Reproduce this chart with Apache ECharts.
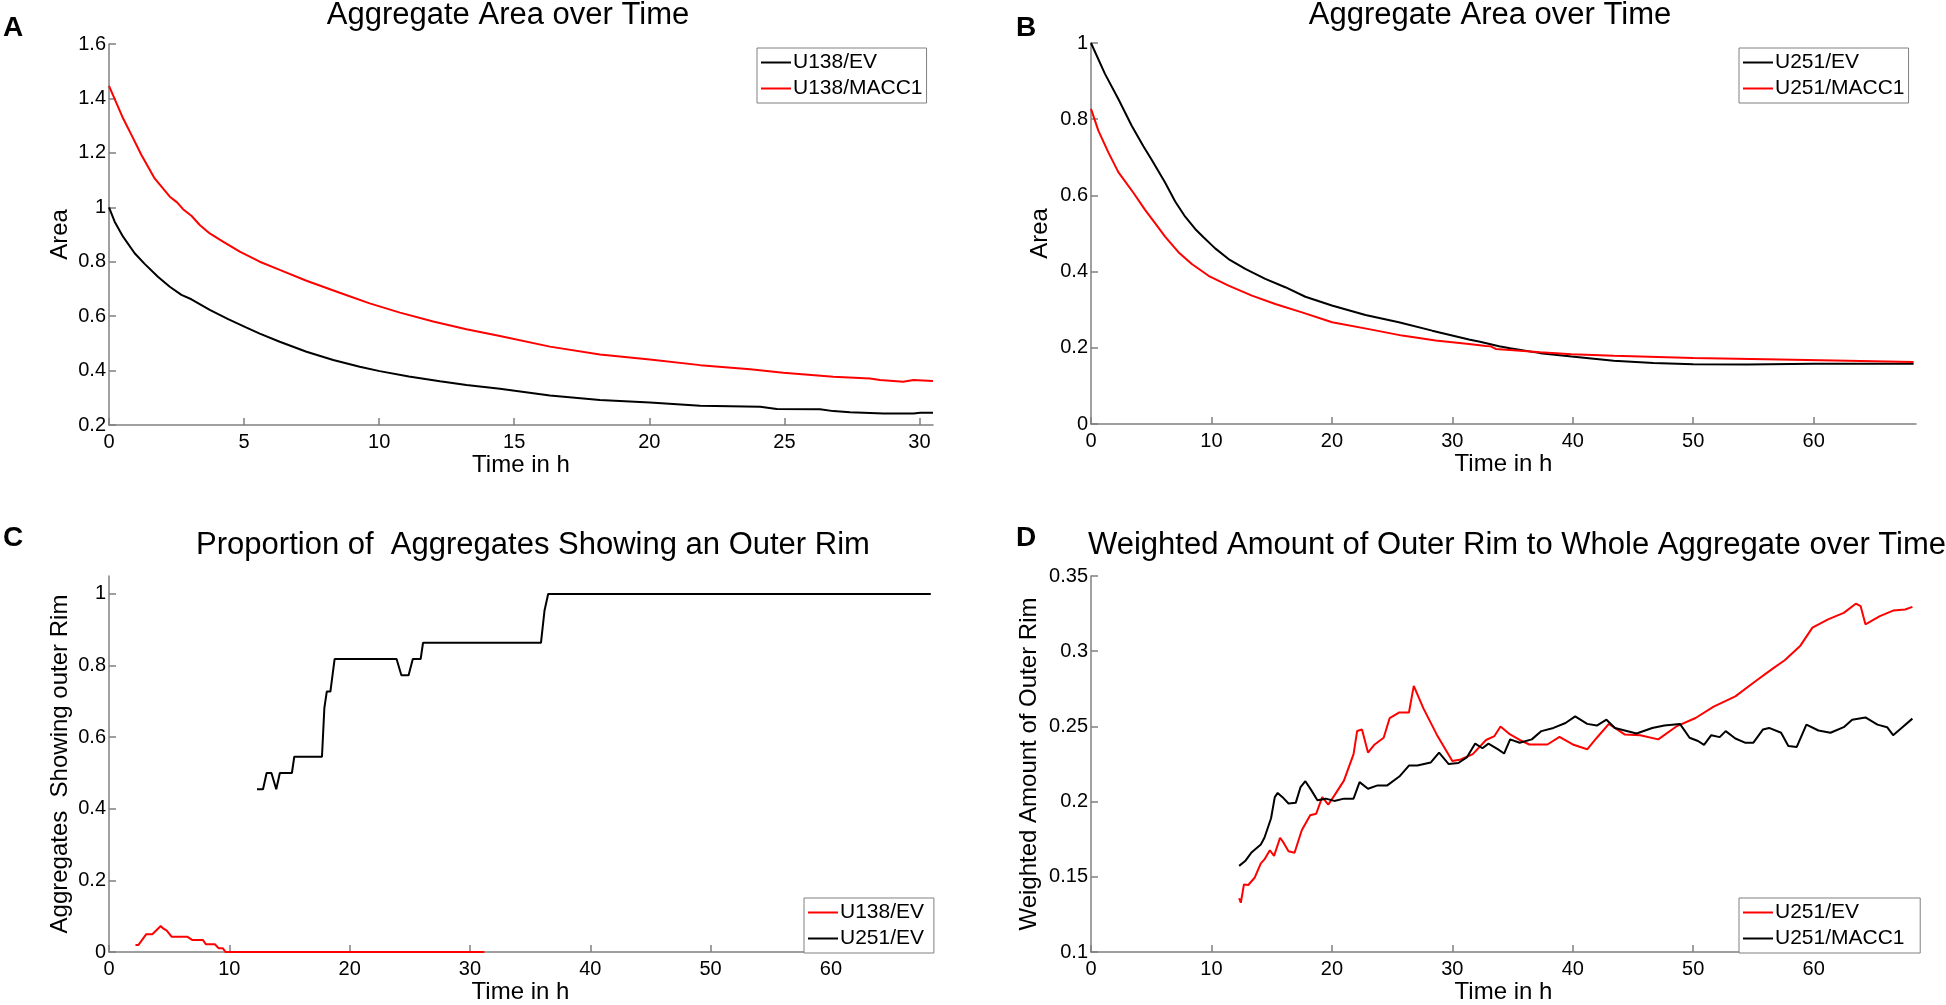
<!DOCTYPE html>
<html>
<head>
<meta charset="utf-8">
<script src="https://cdn.jsdelivr.net/npm/echarts@6/dist/echarts.min.js"></script>
<style>
html,body{margin:0;padding:0;background:#fff;}
#c{width:1946px;height:1005px;}
</style>
</head>
<body>
<div id="c"></div>
<script>
// ---------- DATA ----------
// Panel A: Aggregate Area over Time (U138)
const aU138EV = [[0,1.0],[0.21,0.947],[0.52,0.892],[0.95,0.831],[1.32,0.792],[1.81,0.745],[2.25,0.708],[2.68,0.678],[3.05,0.662],[3.73,0.623],[4.41,0.589],[5.09,0.558],[5.58,0.536],[6.32,0.506],[7.31,0.469],[8.3,0.439],[9.28,0.414],[10.02,0.398],[11.1,0.378],[12.25,0.361],[13.23,0.347],[14.47,0.333],[16.32,0.308],[18.17,0.292],[20.02,0.283],[21.88,0.271],[24.1,0.267],[24.72,0.259],[26.32,0.258],[26.81,0.251],[27.43,0.247],[28.67,0.242],[29.78,0.242],[30.03,0.245],[30.5,0.245]];
const aU138MACC1 = [[0,1.446],[0.52,1.327],[0.83,1.266],[1.2,1.192],[1.69,1.106],[2.25,1.039],[2.52,1.018],[2.74,0.993],[3.05,0.969],[3.36,0.935],[3.73,0.904],[4.22,0.874],[4.84,0.837],[5.58,0.8],[6.32,0.77],[7.31,0.73],[8.54,0.686],[9.65,0.647],[10.77,0.613],[12.0,0.58],[13.23,0.552],[14.47,0.527],[16.32,0.488],[18.17,0.459],[20.02,0.441],[21.88,0.42],[23.73,0.405],[24.96,0.392],[26.81,0.377],[28.17,0.371],[28.54,0.365],[29.4,0.359],[29.78,0.365],[30.5,0.362]];
// Panel B: Aggregate Area over Time (U251)
const bU251EV = [[0,1.0],[1.16,0.919],[2.27,0.853],[3.38,0.783],[4.35,0.729],[5.05,0.693],[6.15,0.634],[6.99,0.584],[7.82,0.544],[8.65,0.512],[9.34,0.49],[10.31,0.461],[11.42,0.433],[12.81,0.407],[14.47,0.381],[16.13,0.359],[17.8,0.334],[20.0,0.311],[22.79,0.286],[25.56,0.267],[28.33,0.245],[31.38,0.222],[32.3,0.216],[33.88,0.204],[34.8,0.199],[37.3,0.186],[39.9,0.177],[43.4,0.166],[46.7,0.16],[50.0,0.157],[54.5,0.156],[60.0,0.158],[68.3,0.158]];
const bU251MACC1 = [[0,0.827],[0.61,0.77],[1.44,0.713],[2.27,0.661],[3.52,0.607],[4.49,0.562],[5.32,0.527],[6.15,0.492],[7.26,0.451],[8.37,0.42],[9.76,0.389],[11.42,0.363],[13.36,0.337],[15.3,0.315],[17.52,0.293],[20.02,0.267],[23.07,0.249],[25.84,0.232],[28.61,0.219],[31.38,0.21],[32.8,0.205],[33.19,0.204],[33.6,0.197],[34.8,0.194],[37.3,0.188],[39.9,0.183],[43.4,0.179],[50.0,0.173],[57.2,0.169],[62.8,0.166],[68.3,0.163]];
// Panel C: Proportion of Aggregates Showing an Outer Rim
const cU138EV = [[2.2,0.02],[2.45,0.02],[3.1,0.05],[3.6,0.05],[4.3,0.073],[4.5,0.066],[4.8,0.06],[5.2,0.043],[6.5,0.043],[6.9,0.034],[7.8,0.034],[8.05,0.022],[8.8,0.022],[9.1,0.011],[9.45,0.011],[9.7,0],[31.2,0]];
const cU251EV = [[12.3,0.4545],[12.8,0.4545],[13.1,0.5],[13.5,0.5],[13.9,0.4545],[14.2,0.5],[15.2,0.5],[15.4,0.5455],[17.7,0.5455],[17.9,0.682],[18.1,0.7273],[18.4,0.7273],[18.75,0.8182],[23.9,0.8182],[24.3,0.7727],[24.9,0.7727],[25.25,0.8182],[25.9,0.8182],[26.1,0.8636],[35.9,0.8636],[36.2,0.9545],[36.5,1],[68.3,1]];
// Panel D: Weighted Amount of Outer Rim to Whole Aggregate over Time
const dU251EV = [[12.3,0.1358],[12.44,0.1328],[12.7,0.145],[13.06,0.1446],[13.6,0.1496],[14.1,0.159],[14.4,0.1616],[14.85,0.1677],[15.2,0.164],[15.7,0.176],[16.0,0.1726],[16.4,0.167],[16.9,0.166],[17.5,0.181],[18.2,0.191],[18.7,0.192],[19.2,0.203],[19.7,0.198],[20.2,0.204],[21.0,0.214],[21.8,0.2316],[22.1,0.247],[22.5,0.248],[23.0,0.2326],[23.55,0.238],[24.3,0.2425],[24.8,0.2556],[25.6,0.2593],[26.4,0.2593],[26.8,0.277],[27.6,0.262],[28.7,0.2447],[30.0,0.227],[30.7,0.228],[31.7,0.2316],[32.8,0.241],[33.5,0.2436],[34.0,0.25],[34.8,0.2447],[35.6,0.241],[36.4,0.238],[37.9,0.238],[38.9,0.243],[40.0,0.238],[41.2,0.2348],[42.0,0.2425],[43.0,0.2517],[44.3,0.2447],[45.6,0.2442],[47.1,0.2414],[48.6,0.25],[50.2,0.2556],[51.7,0.2632],[53.5,0.27],[55.0,0.279],[56.6,0.2884],[57.6,0.294],[58.9,0.3037],[59.9,0.3157],[61.2,0.3212],[62.5,0.3255],[63.5,0.3316],[63.9,0.330],[64.3,0.3179],[65.5,0.3233],[66.6,0.327],[67.6,0.3277],[68.2,0.3295]];
const dU251MACC1 = [[12.3,0.1573],[12.8,0.1605],[13.3,0.166],[14.1,0.1715],[14.4,0.176],[14.95,0.189],[15.26,0.203],[15.5,0.2058],[15.9,0.203],[16.4,0.1988],[17.0,0.1992],[17.4,0.2097],[17.8,0.2136],[18.3,0.2075],[18.8,0.201],[19.5,0.202],[20.2,0.2005],[21.0,0.202],[21.8,0.202],[22.3,0.213],[23.0,0.2086],[23.8,0.2108],[24.6,0.2108],[25.6,0.2167],[26.4,0.224],[27.1,0.224],[28.2,0.226],[28.9,0.2326],[29.7,0.225],[30.5,0.2257],[31.2,0.2294],[31.9,0.2386],[32.5,0.2355],[33.0,0.2386],[33.8,0.2348],[34.3,0.232],[34.8,0.2414],[35.6,0.2392],[36.6,0.2414],[37.4,0.2469],[38.4,0.249],[39.4,0.2523],[40.2,0.2567],[41.2,0.2517],[42.0,0.2506],[42.8,0.2545],[43.5,0.249],[45.3,0.2453],[46.6,0.249],[47.6,0.2506],[48.9,0.2517],[49.7,0.2425],[50.4,0.2403],[50.9,0.2377],[51.5,0.2442],[52.2,0.2429],[52.7,0.2469],[53.5,0.242],[54.3,0.2392],[55.0,0.2392],[55.8,0.248],[56.3,0.249],[57.3,0.2458],[57.9,0.237],[58.6,0.2364],[59.4,0.2512],[60.4,0.2473],[61.4,0.2458],[62.5,0.2495],[63.2,0.2545],[64.3,0.256],[65.3,0.2512],[66.1,0.2495],[66.6,0.2442],[67.3,0.249],[68.2,0.2552]];

// Tick values
const xTicksA = [0,5,10,15,20,25,30];
const xTicksBCD = [0,10,20,30,40,50,60];
const yTicksA = [0.2,0.4,0.6,0.8,1,1.2,1.4,1.6];
const yTicksB = [0,0.2,0.4,0.6,0.8,1];
const yTicksC = [0,0.2,0.4,0.6,0.8,1];
const yTicksD = [0.1,0.15,0.2,0.25,0.3,0.35];

// Texts
const panelTitles = ['Aggregate Area over Time','Aggregate Area over Time','Proportion of  Aggregates Showing an Outer Rim','Weighted Amount of Outer Rim to Whole Aggregate over Time'];
const panelLetters = ['A','B','C','D'];
const xName = 'Time in h';
const yNames = ['Area','Area','Aggregates  Showing outer Rim','Weighted Amount of Outer Rim'];

// ---------- CHART ----------
const FONT = "'Liberation Sans', Arial, Helvetica, sans-serif";
const AX = '#808080';
const chart = echarts.init(document.getElementById('c'), null, {renderer:'canvas'});

const grids = [
  {left:109, top:44, width:824, height:381},
  {left:1091, top:43, width:825, height:381},
  {left:109, top:576, width:823, height:381},
  {left:1091, top:576, width:825, height:381}
];
const xMax = [30.5, 68.5, 68.4, 68.5];
const xTicks = [xTicksA, xTicksBCD, xTicksBCD, xTicksBCD];
const yMin = [0.2, 0, 0, 0.1];
const yMax = [1.6, 1, 1.05, 0.35];
const yTicks = [yTicksA, yTicksB, yTicksC, yTicksD];
const yGap = [37, 39, 37, 50];

function xAxis(i){
  return {
    type:'value', gridIndex:i, min:0, max:xMax[i],
    name:xName, nameLocation:'middle', nameGap:24,
    nameTextStyle:{fontFamily:FONT, fontSize:24, color:'#000'},
    axisLine:{show:true, onZero:false, lineStyle:{color:AX, width:1.5}},
    axisTick:{show:true, inside:true, length:7, customValues:xTicks[i], lineStyle:{color:AX, width:1.5}},
    axisLabel:{customValues:xTicks[i], fontFamily:FONT, fontSize:20, color:'#000', margin:7},
    splitLine:{show:false}
  };
}
function yAxis(i){
  return {
    type:'value', gridIndex:i, min:yMin[i], max:yMax[i],
    name:yNames[i], nameLocation:'middle', nameGap:yGap[i], nameRotate:90,
    nameTextStyle:{fontFamily:FONT, fontSize:24, color:'#000'},
    axisLine:{show:true, onZero:false, lineStyle:{color:AX, width:1.5}},
    axisTick:{show:true, inside:true, length:7, customValues:yTicks[i], lineStyle:{color:AX, width:1.5}},
    axisLabel:{customValues:yTicks[i], fontFamily:FONT, fontSize:20, color:'#000', margin:3},
    splitLine:{show:false}
  };
}
function line(name, data, i, color){
  return {type:'line', name, data, xAxisIndex:i, yAxisIndex:i, symbol:'none', showSymbol:false,
    lineStyle:{color, width:2}, itemStyle:{color}, animation:false, z:3, silent:true};
}
function legend(names, left, top){
  return {data:names, orient:'vertical', left, top, padding:[4,4,4,4], itemGap:5,
    icon:'rect', itemWidth:30, itemHeight:2, borderColor:'#808080', borderWidth:1, backgroundColor:'#fff',
    textStyle:{fontFamily:FONT, fontSize:21, color:'#000', padding:[0,0,0,-3]}, selectedMode:false};
}

const titleCenters = [[508,0,'center'],[1490,0,'center'],[533,530,'center'],[1088,530,'left']];
const letterPos = [[3,14],[1016,14],[3,524],[1016,524]];
const titles = [];
for (let i=0;i<4;i++){
  titles.push({text:panelTitles[i], left:titleCenters[i][0], top:titleCenters[i][1], textAlign:titleCenters[i][2], padding:0,
    textStyle:{fontFamily:FONT, fontSize:31, fontWeight:'normal', color:'#000'}});
  titles.push({text:panelLetters[i], left:letterPos[i][0], top:letterPos[i][1], padding:0,
    textStyle:{fontFamily:FONT, fontSize:28, fontWeight:'bold', color:'#000'}});
}

chart.setOption({
  backgroundColor:'#fff',
  animation:false,
  title:titles,
  grid:grids.map(g=>Object.assign({containLabel:false}, g)),
  xAxis:[0,1,2,3].map(xAxis),
  yAxis:[0,1,2,3].map(yAxis),
  legend:[
    legend(['U138/EV','U138/MACC1'], 757, 48),
    legend(['U251/EV','U251/MACC1'], 1739, 48),
    legend(['U138/EV ','U251/EV '], 804, 898),
    legend(['U251/EV  ','U251/MACC1  '], 1739, 898)
  ],
  series:[
    line('U138/EV', aU138EV, 0, '#000000'),
    line('U138/MACC1', aU138MACC1, 0, '#ff0000'),
    line('U251/EV', bU251EV, 1, '#000000'),
    line('U251/MACC1', bU251MACC1, 1, '#ff0000'),
    line('U138/EV ', cU138EV, 2, '#ff0000'),
    line('U251/EV ', cU251EV, 2, '#000000'),
    line('U251/EV  ', dU251EV, 3, '#ff0000'),
    line('U251/MACC1  ', dU251MACC1, 3, '#000000')
  ]
});
</script>
</body>
</html>
